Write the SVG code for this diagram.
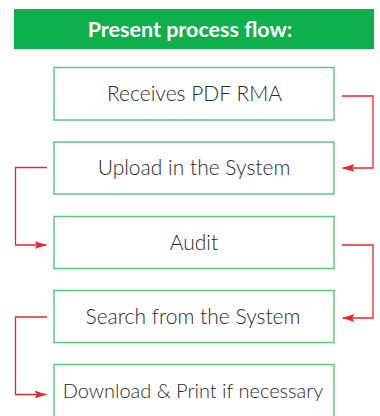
<svg xmlns="http://www.w3.org/2000/svg" width="380" height="416" viewBox="0 0 380 416">
<style>
.box{fill:#fff;stroke:#5ccb7d;stroke-width:1.5}
.lbl{font-family:Lato,"Open Sans",sans-serif;font-weight:300;font-size:21px;fill:#2a2a2a;text-anchor:middle}
.conn{fill:none;stroke:#e8262b;stroke-width:1.3}
</style>
<defs>
<marker id="ah" markerWidth="12" markerHeight="8" refX="12" refY="4" orient="auto" markerUnits="userSpaceOnUse">
<path d="M0,0 L12,4 L0,8 L2.5,4 Z" fill="#e8262b"/>
</marker>
</defs>
<rect width="380" height="416" fill="#fff"/>
<g id="header">
<rect x="14" y="9" width="360" height="40" fill="#0eb04b"/>
<text x="190" y="37" font-family="Lato,'Open Sans',sans-serif" font-weight="700" font-size="21.5" fill="#fff" text-anchor="middle">Present process flow:</text>
</g>
<g id="n1"><rect class="box" x="54" y="67.5" width="280" height="52.5"/><text class="lbl" x="194.5" y="101">Receives PDF RMA</text></g>
<g id="n2"><rect class="box" x="54" y="142" width="280" height="52"/><text class="lbl" x="194" y="175">Upload in the System</text></g>
<g id="n3"><rect class="box" x="54" y="216.5" width="280" height="52"/><text class="lbl" x="194" y="250">Audit</text></g>
<g id="n4"><rect class="box" x="54" y="290.5" width="280" height="52"/><text class="lbl" x="193" y="324">Search from the System</text></g>
<g id="n5"><rect class="box" x="54" y="364.5" width="280" height="60"/><text class="lbl" x="193" y="398" style="font-size:20px">Download &amp; Print if necessary</text></g>
<g id="connectors">
<path class="conn" d="M342,96 H373 V168 H342.5" marker-end="url(#ah)"/>
<path class="conn" d="M47,167.5 H15.5 V245 H46.5" marker-end="url(#ah)"/>
<path class="conn" d="M342,245 H373 V318 H342.5" marker-end="url(#ah)"/>
<path class="conn" d="M47,317 H15.5 V394.5 H46.5" marker-end="url(#ah)"/>
</g>
</svg>
